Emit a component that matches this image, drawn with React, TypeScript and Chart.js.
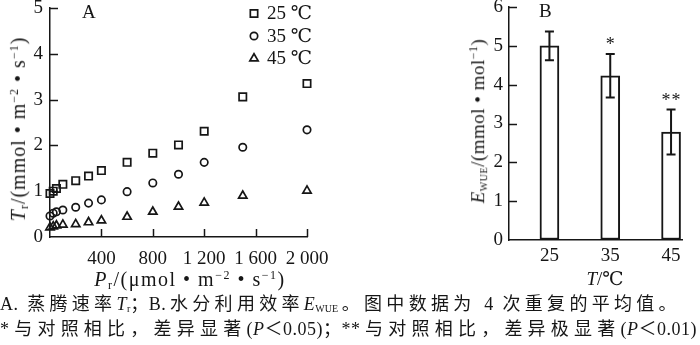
import React, { useEffect, useRef } from 'react';
import { Chart, registerables } from 'chart.js';
import { drawPoint } from 'chart.js/helpers';

Chart.register(...registerables);

const SERIF = "'Liberation Serif', 'Times New Roman', 'DejaVu Serif', serif";
const INK = '#161616';

// ---- Panel A data ----
const lightLevels = [0, 25, 50, 100, 200, 300, 400, 600, 800, 1000, 1200, 1500, 2000];
const tr25 = [0.95, 1.0, 1.06, 1.15, 1.23, 1.33, 1.45, 1.63, 1.83, 2.01, 2.31, 3.06, 3.35];
const tr35 = [0.46, 0.52, 0.55, 0.59, 0.65, 0.74, 0.81, 0.99, 1.18, 1.37, 1.63, 1.96, 2.34];
const tr45 = [0.21, 0.23, 0.25, 0.27, 0.28, 0.32, 0.36, 0.44, 0.55, 0.66, 0.75, 0.9, 1.01];
const seriesLabels = ['25 \u2103', '35 \u2103', '45 \u2103'];
const prTickValues = [0, 400, 800, 1200, 1600, 2000];
const prTickLabels = ['', '400', '800', '1 200', '1 600', '2 000'];
const trTickValues = [0, 1, 2, 3, 4, 5];
const trTickLabels = ['0', '1', '2', '3', '4', '5'];

// ---- Panel B data ----
const temperatures = [25, 35, 45];
const tempTickLabels = ['25', '35', '45'];
const wueMeans = [5.0, 4.23, 2.78];
const wueErrors = [0.37, 0.56, 0.58];
const significance = ['', '*', '**'];
const wueTickValues = [0, 1, 2, 3, 4, 5, 6];
const wueTickLabels = ['0', '1', '2', '3', '4', '5', '6'];

const inwardTicks = {
  id: 'inwardTicks',
  afterDraw(chart: any, _args: any, opts: any) {
    const ctx = chart.ctx;
    const xs = chart.scales.x;
    const ys = chart.scales.y;
    ctx.save();
    ctx.strokeStyle = INK;
    ctx.lineWidth = 1.5;
    if (opts.x) {
      for (const t of xs.ticks) {
        if (t.value === xs.min) continue;
        const px = Math.round(xs.getPixelForValue(t.value)) + 0.5;
        ctx.beginPath();
        ctx.moveTo(px, xs.top);
        ctx.lineTo(px, xs.top - opts.x);
        ctx.stroke();
      }
    }
    if (opts.y) {
      for (const t of ys.ticks) {
        if (t.value === ys.min) continue;
        const py = Math.round(ys.getPixelForValue(t.value)) + 0.5;
        ctx.beginPath();
        ctx.moveTo(ys.right, py);
        ctx.lineTo(ys.right + opts.y, py);
        ctx.stroke();
      }
    }
    ctx.restore();
  },
};

const markerLegend = {
  id: 'markerLegend',
  afterDraw(chart: any, _args: any, opts: any) {
    if (!opts || opts.x === undefined) return;
    const ctx = chart.ctx;
    chart.data.datasets.forEach((ds: any, i: number) => {
      const y = opts.y0 + i * opts.dy;
      ctx.save();
      ctx.strokeStyle = ds.borderColor;
      ctx.fillStyle = '#ffffff';
      ctx.lineWidth = ds.borderWidth;
      drawPoint(ctx, { pointStyle: ds.pointStyle, radius: ds.pointRadius, borderWidth: ds.borderWidth, rotation: 0 } as any, opts.x, y);
      ctx.fillStyle = INK;
      ctx.font = `19px ${SERIF}`;
      ctx.textBaseline = 'middle';
      ctx.textAlign = 'left';
      ctx.fillText(ds.label, opts.x + 13, y + 1);
      ctx.restore();
    });
  },
};

const errorBars = {
  id: 'errorBars',
  afterDatasetsDraw(chart: any, _args: any, opts: any) {
    if (!opts || !opts.errors) return;
    const ctx = chart.ctx;
    const ys = chart.scales.y;
    const meta = chart.getDatasetMeta(0);
    ctx.save();
    ctx.strokeStyle = INK;
    ctx.lineWidth = 2;
    meta.data.forEach((el: any, i: number) => {
      const mean = opts.means[i];
      const err = opts.errors[i];
      const x = el.x;
      const yt = ys.getPixelForValue(mean + err);
      const yb = ys.getPixelForValue(mean - err);
      const cap = 4.5;
      ctx.beginPath();
      ctx.moveTo(x, yt);
      ctx.lineTo(x, yb);
      ctx.moveTo(x - cap, yt);
      ctx.lineTo(x + cap, yt);
      ctx.moveTo(x - cap, yb);
      ctx.lineTo(x + cap, yb);
      ctx.stroke();
      const mark = opts.marks[i];
      if (mark) {
        ctx.fillStyle = INK;
        ctx.font = `18px ${SERIF}`;
        ctx.textAlign = 'center';
        ctx.textBaseline = 'alphabetic';
        (ctx as any).letterSpacing = '1px';
        ctx.fillText(mark, x + 0.5, yt - 4);
      }
    });
    ctx.restore();
  },
};

const tickFont = { family: SERIF, size: 19, lineHeight: 1.2 };

function PanelA() {
  const ref = useRef<HTMLCanvasElement>(null);
  useEffect(() => {
    const mk = (label: string, ys: number[], style: string, r: number) => ({
      label,
      data: lightLevels.map((x, i) => ({ x, y: ys[i] })),
      pointStyle: style,
      pointRadius: r,
      pointBorderWidth: 1.7,
      borderWidth: 1.7,
      borderColor: INK,
      backgroundColor: 'rgba(255,255,255,0)',
      pointBackgroundColor: 'rgba(255,255,255,0)',
      showLine: false,
      clip: false,
    });
    const chart = new Chart(ref.current!, {
      type: 'scatter',
      data: {
        datasets: [
          mk(seriesLabels[0], tr25, 'rect', 5.2),
          mk(seriesLabels[1], tr35, 'circle', 3.7),
          mk(seriesLabels[2], tr45, 'triangle', 4.8),
        ] as any,
      },
      options: {
        responsive: false,
        animation: false,
        devicePixelRatio: 1,
        layout: { padding: { top: 8, right: 33, left: 0, bottom: 0 } },
        plugins: {
          legend: { display: false },
          tooltip: { enabled: false },
          inwardTicks: { x: 8, y: 8 },
          markerLegend: { x: 254, y0: 13.5, dy: 22.5 },
        } as any,
        scales: {
          x: {
            type: 'linear',
            min: 0,
            max: 2000,
            afterBuildTicks: (s: any) => {
              s.ticks = prTickValues.map((value) => ({ value }));
            },
            afterFit: (s: any) => {
              s.height = 53;
              s.paddingLeft = 0;
              s.paddingRight = 0;
            },
            ticks: {
              autoSkip: false,
              maxRotation: 0,
              padding: 11,
              color: INK,
              font: tickFont,
              callback: (_v: any, i: number) => prTickLabels[i],
            },
            grid: { display: true, drawOnChartArea: false, drawTicks: false },
            border: { display: true, color: INK, width: 1.5 },
          },
          y: {
            type: 'linear',
            min: 0,
            max: 5,
            afterBuildTicks: (s: any) => {
              s.ticks = trTickValues.map((value) => ({ value }));
            },
            afterFit: (s: any) => {
              s.width = 50;
              s.paddingTop = 0;
              s.paddingBottom = 0;
            },
            ticks: {
              autoSkip: false,
              padding: 7,
              color: INK,
              font: tickFont,
              callback: (_v: any, i: number) => trTickLabels[i],
            },
            grid: { display: true, drawOnChartArea: false, drawTicks: false },
            border: { display: true, color: INK, width: 1.5 },
          },
        },
      },
      plugins: [inwardTicks, markerLegend],
    } as any);
    return () => chart.destroy();
  }, []);
  return <canvas ref={ref} width={340} height={290} style={{ position: 'absolute', left: 0, top: 0, width: 340, height: 290 }} />;
}

function PanelB() {
  const ref = useRef<HTMLCanvasElement>(null);
  useEffect(() => {
    const chart = new Chart(ref.current!, {
      type: 'bar',
      data: {
        datasets: [
          {
            label: 'E_WUE',
            data: temperatures.map((x, i) => ({ x, y: wueMeans[i] })),
            backgroundColor: '#ffffff',
            borderColor: INK,
            borderWidth: 2,
            borderSkipped: false,
            barThickness: 19,
          },
        ] as any,
      },
      options: {
        responsive: false,
        animation: false,
        devicePixelRatio: 1,
        layout: { padding: { top: 7, right: 18, left: 0, bottom: 0 } },
        plugins: {
          legend: { display: false },
          tooltip: { enabled: false },
          inwardTicks: { y: 8 },
          errorBars: { means: wueMeans, errors: wueErrors, marks: significance },
        } as any,
        scales: {
          x: {
            type: 'linear',
            min: 18.35,
            max: 46.8,
            offset: false,
            afterBuildTicks: (s: any) => {
              s.ticks = temperatures.map((value) => ({ value }));
            },
            afterFit: (s: any) => {
              s.height = 50;
              s.paddingLeft = 0;
              s.paddingRight = 0;
            },
            ticks: {
              autoSkip: false,
              maxRotation: 0,
              padding: 5,
              color: INK,
              font: tickFont,
              callback: (_v: any, i: number) => tempTickLabels[i],
            },
            grid: { display: true, drawOnChartArea: false, drawTicks: false },
            border: { display: true, color: INK, width: 1.5 },
          },
          y: {
            type: 'linear',
            min: 0,
            max: 6,
            afterBuildTicks: (s: any) => {
              s.ticks = wueTickValues.map((value) => ({ value }));
            },
            afterFit: (s: any) => {
              s.width = 69;
              s.paddingTop = 0;
              s.paddingBottom = 0;
            },
            ticks: {
              autoSkip: false,
              padding: 6,
              color: INK,
              font: tickFont,
              callback: (_v: any, i: number) => wueTickLabels[i],
            },
            grid: { display: true, drawOnChartArea: false, drawTicks: false },
            border: { display: true, color: INK, width: 1.5 },
          },
        },
      },
      plugins: [inwardTicks, errorBars],
    } as any);
    return () => chart.destroy();
  }, []);
  return <canvas ref={ref} width={260} height={290} style={{ position: 'absolute', left: 440, top: 0, width: 260, height: 290 }} />;
}

const txt: React.CSSProperties = {
  position: 'absolute',
  fontFamily: SERIF,
  fontSize: 18,
  color: INK,
  whiteSpace: 'nowrap',
  lineHeight: 1,
};
const sub: React.CSSProperties = { fontSize: 12, verticalAlign: '-0.25em' };
const sup: React.CSSProperties = { fontSize: 12, verticalAlign: '0.6em' };

function Rot({ cx, cy, size, spacing, children }: { cx: number; cy: number; size: number; spacing: number; children: React.ReactNode }) {
  return (
    <div style={{ ...txt, fontSize: size, letterSpacing: spacing, left: cx, top: cy, transform: 'translate(-50%, -50%) rotate(-90deg)' }}>{children}</div>
  );
}

export default function App() {
  useEffect(() => {
    document.body.style.margin = '0';
  }, []);
  const cap: React.CSSProperties = {
    ...txt,
    left: 0,
    fontSize: 18,
    letterSpacing: 0.5,
    fontFamily: `'Liberation Serif', 'Noto Sans CJK SC', serif`,
    textAlign: 'justify',
    textAlignLast: 'justify' as any,
    whiteSpace: 'normal',
  };
  const capSub: React.CSSProperties = { fontSize: 10, verticalAlign: '-0.2em', letterSpacing: 0 };
  return (
    <div style={{ position: 'absolute', left: 0, top: 0, width: 700, height: 345, background: '#fff', overflow: 'hidden' }}>
      <PanelA />
      <PanelB />
      <div style={{ ...txt, left: 82, top: 2, fontSize: 19 }}>A</div>
      <div style={{ ...txt, left: 539, top: 1, fontSize: 19 }}>B</div>
      <Rot cx={19} cy={129} size={20} spacing={1}>
        <i>T</i>
        <span style={sub}>r</span>/(mmol • m<span style={sup}>−2</span> • s<span style={sup}>−1</span>)
      </Rot>
      <Rot cx={478} cy={121} size={19} spacing={0.5}>
        <i>E</i>
        <span style={{ ...sub, fontSize: 10 }}>WUE</span>/(mmol • mol<span style={sup}>−1</span>)
      </Rot>
      <div style={{ ...txt, fontSize: 20, letterSpacing: 1.5, left: 190, top: 280, transform: 'translate(-50%, -50%)' }}>
        <i>P</i>
        <span style={sub}>r</span>/(μmol • m<span style={sup}>−2</span> • s<span style={sup}>−1</span>)
      </div>
      <div style={{ ...txt, fontSize: 19, left: 605, top: 278, transform: 'translate(-50%, -50%)' }}>
        <i>T</i>/℃
      </div>
      <div style={{ ...cap, top: 295, width: 677 }}>
        A. 蒸腾速率<i>T</i>
        <span style={capSub}>r</span>；B.水分利用效率<i>E</i>
        <span style={capSub}>WUE</span>。图中数据为 4 次重复的平均值。
      </div>
      <div style={{ ...cap, top: 320, width: 697 }}>
        *与对照相比，差异显著(<i>P</i>＜0.05)；**与对照相比，差异极显著(<i>P</i>＜0.01)
      </div>
    </div>
  );
}
